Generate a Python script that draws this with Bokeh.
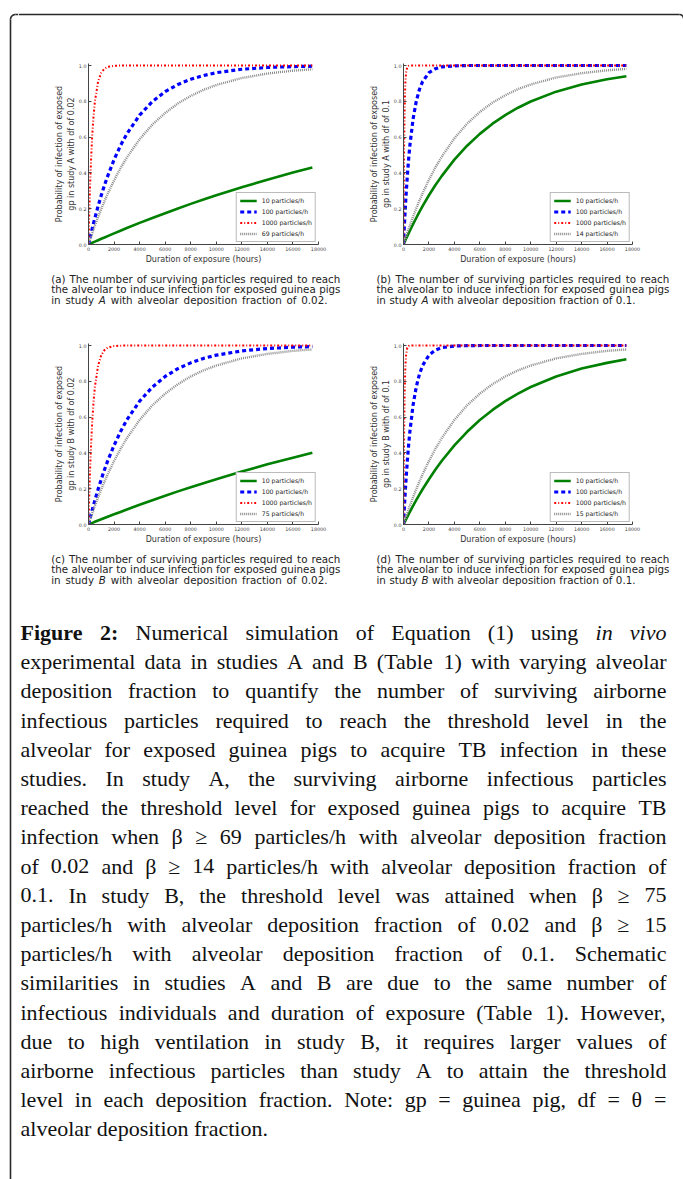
import numpy as np
from bokeh.plotting import figure
from bokeh.layouts import row, column
from bokeh.models import Range1d, Legend, LegendItem, FixedTicker, PrintfTickFormatter
from bokeh.core.properties import value
from bokeh.embed import file_html
from bokeh.resources import INLINE

# ---------------- data ----------------
hours = [0, 50, 100, 150, 200, 300, 400, 500, 750, 1000, 1250, 1500, 2000, 2500,
         3000, 4000, 5000, 6000, 7000, 8000, 9000, 10000, 12000, 14000, 16000, 17520]

a_10 = [0, 0.002, 0.003, 0.005, 0.006, 0.010, 0.013, 0.016, 0.024, 0.032, 0.039, 0.047, 0.062,
        0.077, 0.092, 0.121, 0.148, 0.175, 0.201, 0.227, 0.251, 0.275, 0.320, 0.362, 0.402, 0.430]
a_100 = [0, 0.016, 0.032, 0.047, 0.062, 0.092, 0.121, 0.148, 0.214, 0.275, 0.331, 0.382, 0.474,
         0.552, 0.618, 0.723, 0.799, 0.854, 0.894, 0.923, 0.944, 0.960, 0.979, 0.989, 0.994, 0.996]
a_1000 = [0, 0.148, 0.275, 0.382, 0.474, 0.618, 0.723, 0.799, 0.910, 0.960, 0.982, 0.992, 0.998,
          1.0, 1.0, 1.0, 1.0, 1.0, 1.0, 1.0, 1.0, 1.0, 1.0, 1.0, 1.0, 1.0]
a_69 = [0, 0.011, 0.022, 0.033, 0.043, 0.064, 0.085, 0.105, 0.153, 0.199, 0.242, 0.283, 0.358,
        0.425, 0.486, 0.588, 0.670, 0.735, 0.788, 0.830, 0.864, 0.891, 0.930, 0.955, 0.971, 0.979]

b_10 = [0, 0.008, 0.016, 0.024, 0.032, 0.047, 0.062, 0.077, 0.113, 0.148, 0.182, 0.214, 0.275,
        0.331, 0.382, 0.474, 0.552, 0.618, 0.675, 0.723, 0.764, 0.799, 0.854, 0.894, 0.923, 0.940]
b_100 = [0, 0.077, 0.148, 0.214, 0.275, 0.382, 0.474, 0.552, 0.700, 0.799, 0.866, 0.910, 0.960,
         0.982, 0.992, 0.998, 1.0, 1.0, 1.0, 1.0, 1.0, 1.0, 1.0, 1.0, 1.0, 1.0]
b_1000 = [0, 0.552, 0.799, 0.910, 0.960, 0.992, 0.998, 1.0, 1.0, 1.0, 1.0, 1.0, 1.0,
          1.0, 1.0, 1.0, 1.0, 1.0, 1.0, 1.0, 1.0, 1.0, 1.0, 1.0, 1.0, 1.0]
b_14 = [0, 0.011, 0.022, 0.033, 0.044, 0.065, 0.086, 0.106, 0.155, 0.201, 0.245, 0.286, 0.362,
        0.430, 0.490, 0.593, 0.675, 0.740, 0.793, 0.834, 0.868, 0.894, 0.933, 0.957, 0.973, 0.981]

c_10 = [0, 0.001, 0.003, 0.004, 0.006, 0.009, 0.012, 0.015, 0.022, 0.029, 0.036, 0.043, 0.057,
        0.070, 0.084, 0.110, 0.136, 0.161, 0.185, 0.208, 0.231, 0.253, 0.296, 0.336, 0.373, 0.401]
c_100 = [0, 0.015, 0.029, 0.043, 0.057, 0.084, 0.110, 0.136, 0.197, 0.253, 0.306, 0.355, 0.442,
         0.518, 0.584, 0.689, 0.768, 0.827, 0.871, 0.903, 0.928, 0.946, 0.970, 0.983, 0.991, 0.994]
c_1000 = [0, 0.136, 0.253, 0.355, 0.442, 0.584, 0.689, 0.768, 0.888, 0.946, 0.974, 0.988, 0.997,
          0.999, 1.0, 1.0, 1.0, 1.0, 1.0, 1.0, 1.0, 1.0, 1.0, 1.0, 1.0, 1.0]
c_75 = [0, 0.011, 0.022, 0.032, 0.043, 0.064, 0.084, 0.104, 0.152, 0.197, 0.240, 0.280, 0.355,
        0.422, 0.482, 0.584, 0.666, 0.731, 0.784, 0.827, 0.861, 0.888, 0.928, 0.953, 0.970, 0.978]

d_10 = [0, 0.007, 0.015, 0.022, 0.029, 0.043, 0.057, 0.070, 0.104, 0.136, 0.167, 0.197, 0.253,
        0.306, 0.355, 0.442, 0.518, 0.584, 0.640, 0.689, 0.731, 0.768, 0.827, 0.871, 0.903, 0.923]
d_100 = [0, 0.070, 0.136, 0.197, 0.253, 0.355, 0.442, 0.518, 0.666, 0.768, 0.839, 0.888, 0.946,
         0.974, 0.988, 0.997, 0.999, 1.0, 1.0, 1.0, 1.0, 1.0, 1.0, 1.0, 1.0, 1.0]
d_1000 = [0, 0.518, 0.768, 0.888, 0.946, 0.988, 0.997, 0.999, 1.0, 1.0, 1.0, 1.0, 1.0,
          1.0, 1.0, 1.0, 1.0, 1.0, 1.0, 1.0, 1.0, 1.0, 1.0, 1.0, 1.0, 1.0]
d_15 = [0, 0.011, 0.022, 0.032, 0.043, 0.064, 0.084, 0.104, 0.152, 0.197, 0.240, 0.280, 0.355,
        0.422, 0.482, 0.584, 0.666, 0.731, 0.784, 0.827, 0.861, 0.888, 0.928, 0.953, 0.970, 0.978]

x_ticks = [0, 2000, 4000, 6000, 8000, 10000, 12000, 14000, 16000, 18000]
y_ticks = [0.0, 0.2, 0.4, 0.6, 0.8, 1.0]

labels_a = ["10 particles/h", "100 particles/h", "1000 particles/h", "69 particles/h"]
labels_b = ["10 particles/h", "100 particles/h", "1000 particles/h", "14 particles/h"]
labels_c = ["10 particles/h", "100 particles/h", "1000 particles/h", "75 particles/h"]
labels_d = ["10 particles/h", "100 particles/h", "1000 particles/h", "15 particles/h"]

ylabel_a = "Probability of infection of exposed\ngp in study A with df of 0.02"
ylabel_b = "Probability of infection of exposed\ngp in study A with df of 0.1"
ylabel_c = "Probability of infection of exposed\ngp in study B with df of 0.02"
ylabel_d = "Probability of infection of exposed\ngp in study B with df of 0.1"
xlabel = "Duration of exposure (hours)"

caption_a = ["(a) The number of surviving particles required to reach",
             "the alveolar to induce infection for exposed guinea pigs",
             "in study _A_ with alveolar deposition fraction of 0.02."]
caption_b = ["(b) The number of surviving particles required to reach",
             "the alveolar to induce infection for exposed guinea pigs",
             "in study _A_ with alveolar deposition fraction of 0.1."]
caption_c = ["(c) The number of surviving particles required to reach",
             "the alveolar to induce infection for exposed guinea pigs",
             "in study _B_ with alveolar deposition fraction of 0.02."]
caption_d = ["(d) The number of surviving particles required to reach",
             "the alveolar to induce infection for exposed guinea pigs",
             "in study _B_ with alveolar deposition fraction of 0.1."]

main_caption = [
    "**Figure** **2:** Numerical simulation of Equation (1) using _in_ _vivo_",
    "experimental data in studies A and B (Table 1) with varying alveolar",
    "deposition fraction to quantify the number of surviving airborne",
    "infectious particles required to reach the threshold level in the",
    "alveolar for exposed guinea pigs to acquire TB infection in these",
    "studies. In study A, the surviving airborne infectious particles",
    "reached the threshold level for exposed guinea pigs to acquire TB",
    "infection when β ≥ 69 particles/h with alveolar deposition fraction",
    "of 0.02 and β ≥ 14 particles/h with alveolar deposition fraction of",
    "0.1. In study B, the threshold level was attained when β ≥ 75",
    "particles/h with alveolar deposition fraction of 0.02 and β ≥ 15",
    "particles/h with alveolar deposition fraction of 0.1. Schematic",
    "similarities in studies A and B are due to the same number of",
    "infectious individuals and duration of exposure (Table 1). However,",
    "due to high ventilation in study B, it requires larger values of",
    "airborne infectious particles than study A to attain the threshold",
    "level in each deposition fraction. Note: gp = guinea pig, df = θ =",
    "alveolar deposition fraction.",
]

# ---------------- font metrics (approximate, per 1000 em) ----------------
_lc = "abcdefghijklmnopqrstuvwxyz"
TIMES = dict(zip(_lc, [444, 500, 444, 500, 444, 333, 500, 500, 278, 278, 500, 278, 778, 500, 500,
                       500, 500, 333, 389, 278, 500, 500, 722, 500, 500, 444]))
TIMES.update(dict(zip("ABCDEFGHIJKLMNOPQRSTUVWXYZ",
                      [722, 667, 667, 722, 611, 556, 722, 722, 333, 389, 722, 611, 889, 722, 722,
                       556, 722, 667, 556, 611, 722, 722, 944, 722, 722, 611])))
TIMES.update({c: 500 for c in "0123456789"})
TIMES.update({" ": 250, ".": 250, ",": 250, ":": 278, ";": 278, "(": 333, ")": 333, "/": 278,
              "=": 564, "-": 333, "β": 500, "≥": 549, "θ": 500})
TIMES_B = dict(TIMES)
TIMES_B.update({"F": 611, "i": 278, "g": 500, "u": 556, "r": 444, "e": 444, "2": 500, ":": 333})
TIMES_I = dict(TIMES)
TIMES_I.update({"v": 444})

DEJAVU = dict(zip(_lc, [613, 635, 550, 635, 615, 352, 635, 634, 278, 278, 579, 278, 974, 634, 612,
                        635, 635, 411, 521, 392, 634, 592, 818, 592, 592, 525]))
DEJAVU.update({"A": 684, "B": 686, "T": 611, " ": 318, ".": 318, "(": 390, ")": 390})
DEJAVU.update({c: 636 for c in "0123456789"})


def parse(word):
    if word.startswith("**") and word.endswith("**"):
        return word[2:-2], "bold"
    if word.startswith("_") and word.endswith("_") and len(word) > 2:
        return word[1:-1], "italic"
    return word, "normal"


def layout_line(store, line, x0, x1, y, fs, tables, justify):
    words = [parse(w) for w in line.split(" ")]
    widths = [sum(tables[s].get(ch, 500) for ch in t) * fs / 1000.0 for t, s in words]
    if justify and len(words) > 1:
        gap = (x1 - x0 - sum(widths)) / (len(words) - 1)
    else:
        gap = tables["normal"][" "] * fs / 1000.0
    x = x0
    for (t, s), w in zip(words, widths):
        store.setdefault(s, {"x": [], "y": [], "t": []})
        store[s]["x"].append(x)
        store[s]["y"].append(y)
        store[s]["t"].append(t)
        x += w + gap


def draw_store(q, store, font, fs, color):
    for style, d in store.items():
        q.text(x=d["x"], y=d["y"], text=d["t"], text_font=value(font), text_font_size=fs,
               text_font_style=style, text_align="left", text_baseline="middle", text_color=color)


def panel(w, h):
    q = figure(width=w, height=h, x_range=Range1d(0, w), y_range=Range1d(h, 0),
               output_backend="svg", toolbar_location=None, min_border=0,
               x_axis_location=None, y_axis_location=None)
    q.grid.visible = False
    q.outline_line_color = None
    q.background_fill_color = "white"
    q.border_fill_color = "white"
    return q


FRAME = "#2a2a2a"
STYLES = [dict(color="#008000", width=2.6, dash="solid"),
          dict(color="#0000ff", width=3.2, dash="4 3"),
          dict(color="#ff0000", width=2.0, dash="2 2 1 2"),
          dict(color="#8a8a8a", width=2.4, dash="1 1")]
SANS = "DejaVu Sans"


def make_plot(ylabel, series, labels, width, bl, br):
    p = figure(width=width, height=230, x_range=Range1d(0, 18000), y_range=Range1d(0, 181.0 / 179.0),
               output_backend="svg", toolbar_location=None, min_border_left=bl,
               min_border_right=br, min_border_top=25, min_border_bottom=24)
    p.grid.visible = False
    p.outline_line_color = None
    items = []
    for ys, lab, st in zip(series, labels, STYLES):
        r = p.line(hours, ys, line_color=st["color"], line_width=st["width"], line_dash=st["dash"])
        items.append(LegendItem(label=lab, renderers=[r]))
    leg = Legend(items=items, location="bottom_right", margin=2, padding=3, spacing=2,
                 glyph_width=17, glyph_height=9, label_height=9, label_standoff=5,
                 label_text_font=SANS, label_text_font_size="6.2px", label_text_color="#222",
                 border_line_color="#777", border_line_width=1, background_fill_alpha=1.0)
    p.add_layout(leg)
    for ax, ticks, fmt in ((p.xaxis[0], x_ticks, "%d"), (p.yaxis[0], y_ticks, "%.1f")):
        ax.ticker = FixedTicker(ticks=ticks)
        ax.formatter = PrintfTickFormatter(format=fmt)
        ax.major_label_text_font = SANS
        ax.major_label_text_font_size = "4.8px"
        ax.major_label_text_color = "#444"
        ax.major_label_standoff = 2
        ax.major_tick_in = 3
        ax.major_tick_out = 0
        ax.major_tick_line_color = "#444"
        ax.minor_tick_line_color = None
        ax.axis_line_color = "#444"
        ax.axis_label_text_font = SANS
        ax.axis_label_text_font_size = "8px"
        ax.axis_label_text_font_style = "normal"
        ax.axis_label_text_color = "#333"
        ax.axis_label_text_line_height = 1.35
        ax.axis_label_standoff = 0
    p.xaxis[0].axis_label = xlabel
    p.xaxis[0].axis_label_standoff = 1
    p.yaxis[0].axis_label = ylabel
    return p


# geometry: page x/y == canvas x/y
fa = make_plot(ylabel_a, [a_10, a_100, a_1000, a_69], labels_a, 323, 70, 23)
fb = make_plot(ylabel_b, [b_10, b_100, b_1000, b_14], labels_b, 342, 62, 51)
fc = make_plot(ylabel_c, [c_10, c_100, c_1000, c_75], labels_c, 323, 70, 23)
fd = make_plot(ylabel_d, [d_10, d_100, d_1000, d_15], labels_d, 342, 62, 51)

SANS_T = {"normal": DEJAVU, "italic": DEJAVU, "bold": DEJAVU}
SERIF_T = {"normal": TIMES, "italic": TIMES_I, "bold": TIMES_B}

# left strip with the frame's vertical line and rounded corner
left = panel(18, 1179)
t = np.linspace(0, np.pi / 2, 12)
left.line(15 - 5 * np.cos(t), 19 - 5 * np.sin(t), line_color=FRAME, line_width=1.6)
left.line([10, 10], [19, 1179], line_color=FRAME, line_width=1.6)
left.line([15, 18], [14, 14], line_color=FRAME, line_width=1.6)

# top strip with frame's top line
top = panel(665, 38)
top.line([0, 661], [14, 14], line_color=FRAME, line_width=1.6)
top.line(661 + 4 * np.sin(t), 18 - 4 * np.cos(t), line_color=FRAME, line_width=1.6)

# captions for (a) and (b)
CAP_FS = 10.3
cap_ab = panel(665, 50)
store = {}
for i, ln in enumerate(caption_a):
    layout_line(store, ln, 32.7, 322 if i < 2 else 309, 10 + i * 10.5, CAP_FS, SANS_T, True)
for i, ln in enumerate(caption_b):
    layout_line(store, ln, 358, 651 if i < 2 else 617, 10 + i * 10.5, CAP_FS, SANS_T, True)
draw_store(cap_ab, store, SANS, "%.1fpx" % CAP_FS, "#222")

# bottom: captions for (c) and (d) plus main caption
bottom = panel(665, 631)
store = {}
for i, ln in enumerate(caption_c):
    layout_line(store, ln, 32.7, 322 if i < 2 else 309, 10 + i * 10.5, CAP_FS, SANS_T, True)
for i, ln in enumerate(caption_d):
    layout_line(store, ln, 358, 651 if i < 2 else 617, 10 + i * 10.5, CAP_FS, SANS_T, True)
draw_store(bottom, store, SANS, "%.1fpx" % CAP_FS, "#222")

store = {}
n = len(main_caption)
for i, ln in enumerate(main_caption):
    layout_line(store, ln, 2, 648, 84 + i * 29.2, 22, SERIF_T, i < n - 1)
draw_store(bottom, store, "Liberation Serif", "22px", "#111")

page = row(left, column(top, row(fa, fb), cap_ab, row(fc, fd), bottom))

open("out.html", "w").write(file_html(page, INLINE))
